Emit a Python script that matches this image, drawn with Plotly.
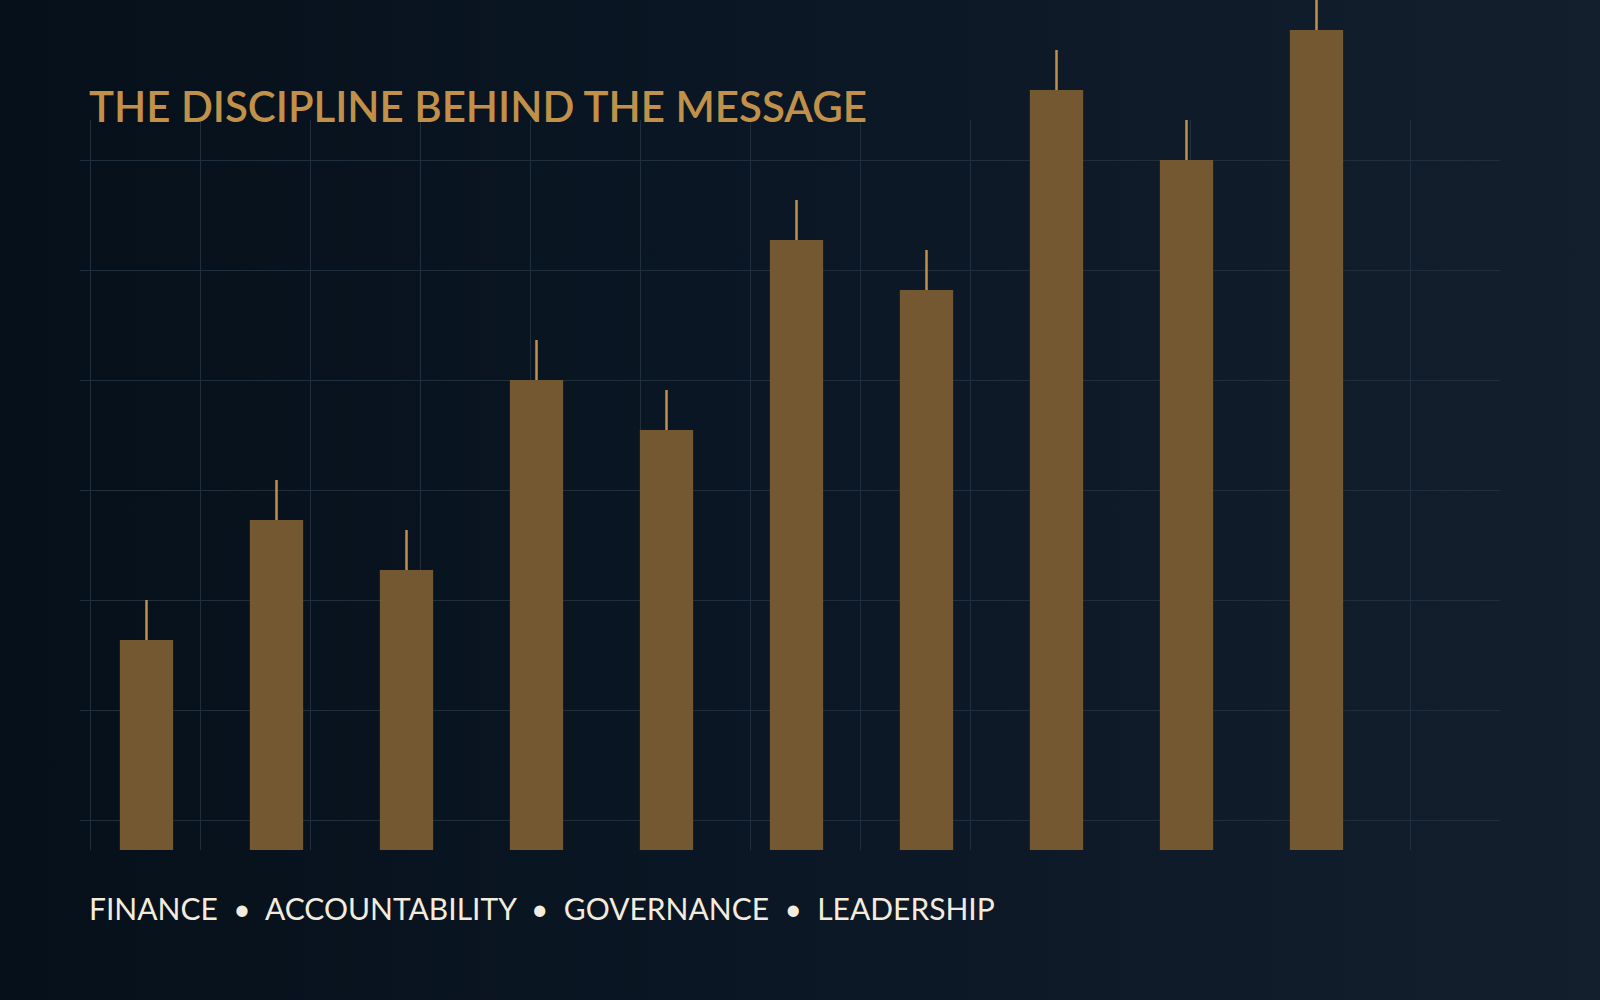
import base64
import plotly.graph_objects as go

# bar data (one bar per period, wick = extra reach above the bar)
periods = ["P1", "P2", "P3", "P4", "P5", "P6", "P7", "P8", "P9", "P10"]
values = [21, 33, 28, 47, 42, 61, 56, 76, 69, 82]
wicks = [4, 4, 4, 4, 4, 4, 4, 4, 4, 4]

title_text = "THE DISCIPLINE BEHIND THE MESSAGE"
pillars = ["FINANCE", "ACCOUNTABILITY", "GOVERNANCE", "LEADERSHIP"]

GOLD = "#c1914a"
BAR = "#735832"
GRID = "#1f2f3e"
CREAM = "#f3ecdd"

W, H = 1600, 1000

# gradient background as an svg image
svg = (
    '<svg xmlns="http://www.w3.org/2000/svg" width="1600" height="1000">'
    '<defs><linearGradient id="g" x1="0" y1="0" x2="1" y2="0">'
    '<stop offset="0" stop-color="#06101a"/>'
    '<stop offset="0.5" stop-color="#0b1725"/>'
    '<stop offset="1" stop-color="#141f2e"/>'
    '</linearGradient></defs>'
    '<rect width="1600" height="1000" fill="url(#g)"/></svg>'
)
bg_src = "data:image/svg+xml;base64," + base64.b64encode(svg.encode()).decode()

fig = go.Figure()

# invisible trace to hold the grid subplot
fig.add_trace(go.Scatter(x=[0], y=[0], mode="markers", marker=dict(opacity=0),
                         hoverinfo="skip", showlegend=False, xaxis="x", yaxis="y"))

fig.add_trace(go.Bar(
    x=periods, y=values,
    width=0.41,
    marker=dict(color=BAR, line=dict(width=0)),
    error_y=dict(type="data", symmetric=False, array=wicks,
                 arrayminus=[0] * len(wicks), width=0, thickness=2.5, color=GOLD),
    xaxis="x2", yaxis="y2", showlegend=False,
))

fig.add_annotation(text=title_text, xref="paper", yref="paper",
                   x=87 / W, y=1 - 106 / H, xanchor="left", yanchor="middle",
                   showarrow=False,
                   font=dict(family="Lato", size=42, color=GOLD, weight=600))

sep = "\u00a0\u00a0\u2022\u00a0\u00a0"
fig.add_annotation(text=sep.join(pillars), xref="paper", yref="paper",
                   x=87 / W, y=1 - 908 / H, xanchor="left", yanchor="middle",
                   showarrow=False,
                   font=dict(family="Lato", size=30, color=CREAM))

fig.update_layout(
    width=W, height=H,
    margin=dict(l=0, r=0, t=0, b=0),
    paper_bgcolor="#08121e",
    plot_bgcolor="rgba(0,0,0,0)",
    showlegend=False,
    images=[dict(source=bg_src, xref="paper", yref="paper", x=0, y=1,
                 sizex=1, sizey=1, sizing="stretch", xanchor="left",
                 yanchor="top", layer="below")],
    # grid subplot
    xaxis=dict(domain=[80 / W, 1500 / W], range=[-10 / 110, 1410 / 110],
               tick0=0, dtick=1, showgrid=True, gridcolor=GRID, gridwidth=1,
               zeroline=False, showticklabels=False, ticks="", showline=False,
               fixedrange=True),
    yaxis=dict(domain=[1 - 850 / H, 1 - 120 / H], range=[-30 / 110, 700 / 110],
               tick0=0, dtick=1, showgrid=True, gridcolor=GRID, gridwidth=1,
               zeroline=False, showticklabels=False, ticks="", showline=False,
               fixedrange=True),
    # bar subplot
    xaxis2=dict(domain=[0, 1], anchor="y2", type="category",
                range=[-146.5 / 130, (W - 146.5) / 130],
                showgrid=False, zeroline=False, showticklabels=False,
                ticks="", showline=False, fixedrange=True),
    yaxis2=dict(domain=[1 - 850 / H, 1], anchor="x2", range=[0, 85],
                showgrid=False, zeroline=False, showticklabels=False,
                ticks="", showline=False, fixedrange=True),
)

fig.write_html("out.html", config={"displayModeBar": False},
               post_script="document.body.style.margin='0';"
                           "document.body.style.background='#08121e';")
